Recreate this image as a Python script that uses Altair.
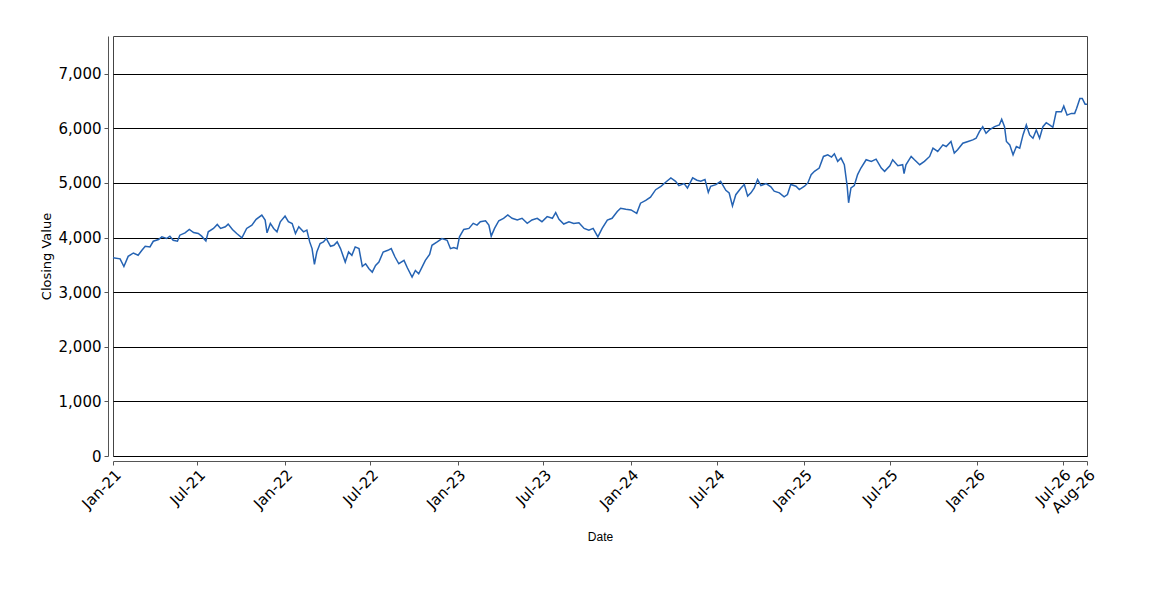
import altair as alt
import pandas as pd

dates = [
    "2021-01-04","2021-01-19","2021-01-27","2021-02-05","2021-02-16","2021-02-26","2021-03-06","2021-03-13",
    "2021-03-23","2021-03-30","2021-04-10","2021-04-17","2021-04-27","2021-05-04","2021-05-11","2021-05-20",
    "2021-05-25","2021-06-05","2021-06-14","2021-06-23","2021-07-03","2021-07-10","2021-07-19","2021-07-24",
    "2021-08-04","2021-08-12","2021-08-19","2021-08-29","2021-09-04","2021-09-13","2021-09-22","2021-10-03",
    "2021-10-13","2021-10-24","2021-11-02","2021-11-14","2021-11-21","2021-11-25","2021-12-02","2021-12-09",
    "2021-12-16","2021-12-23","2022-01-02","2022-01-09","2022-01-17","2022-01-24","2022-01-31","2022-02-10",
    "2022-02-17","2022-02-23","2022-02-28","2022-03-05","2022-03-10","2022-03-17","2022-03-24","2022-03-30",
    "2022-04-08","2022-04-15","2022-04-22","2022-04-29","2022-05-09","2022-05-16","2022-05-23","2022-05-30",
    "2022-06-07","2022-06-14","2022-06-21","2022-06-28","2022-07-05","2022-07-12","2022-07-19","2022-07-28",
    "2022-08-07","2022-08-14","2022-08-22","2022-08-30","2022-09-10","2022-09-17","2022-09-27","2022-10-04",
    "2022-10-11","2022-10-18","2022-10-25","2022-11-03","2022-11-08","2022-11-19","2022-11-29","2022-12-10",
    "2022-12-17","2022-12-24","2022-12-31","2023-01-05","2023-01-14","2023-01-25","2023-02-03","2023-02-11",
    "2023-02-18","2023-03-01","2023-03-08","2023-03-13","2023-03-20","2023-03-29","2023-04-08","2023-04-17",
    "2023-04-26","2023-05-07","2023-05-17","2023-05-28","2023-06-07","2023-06-18","2023-06-28","2023-07-09",
    "2023-07-20","2023-07-27","2023-08-03","2023-08-13","2023-08-24","2023-09-03","2023-09-14","2023-09-25",
    "2023-10-05","2023-10-14","2023-10-24","2023-11-02","2023-11-13","2023-11-23","2023-12-04","2023-12-11",
    "2023-12-22","2024-01-02","2024-01-14","2024-01-22","2024-02-02","2024-02-12","2024-02-23","2024-03-05",
    "2024-03-15","2024-03-26","2024-04-05","2024-04-12","2024-04-23","2024-04-30","2024-05-11","2024-05-20",
    "2024-05-28","2024-06-06","2024-06-13","2024-06-18","2024-06-29","2024-07-09","2024-07-20","2024-07-27",
    "2024-08-03","2024-08-10","2024-08-21","2024-08-28","2024-09-04","2024-09-11","2024-09-18","2024-09-25",
    "2024-10-02","2024-10-13","2024-10-23","2024-10-30","2024-11-10","2024-11-20","2024-11-27","2024-12-04",
    "2024-12-15","2024-12-22","2025-01-02","2025-01-09","2025-01-16","2025-01-23","2025-02-02","2025-02-11",
    "2025-02-20","2025-02-28","2025-03-06","2025-03-13","2025-03-20","2025-03-27","2025-04-02","2025-04-05",
    "2025-04-10","2025-04-17","2025-04-24","2025-05-01","2025-05-12","2025-05-23","2025-06-02","2025-06-13",
    "2025-06-20","2025-07-01","2025-07-07","2025-07-18","2025-07-28","2025-07-31","2025-08-04","2025-08-15",
    "2025-08-22","2025-09-02","2025-09-12","2025-09-23","2025-09-30","2025-10-10","2025-10-21","2025-10-28",
    "2025-11-07","2025-11-14","2025-11-21","2025-12-02","2025-12-13","2025-12-23","2025-12-30","2026-01-06",
    "2026-01-13","2026-01-20","2026-01-27","2026-02-07","2026-02-17","2026-02-22","2026-02-28","2026-03-04",
    "2026-03-11","2026-03-18","2026-03-25","2026-04-01","2026-04-08","2026-04-15","2026-04-22","2026-04-29",
    "2026-05-06","2026-05-13","2026-05-20","2026-05-27","2026-06-03","2026-06-10","2026-06-17","2026-06-28",
    "2026-07-03","2026-07-10","2026-07-19","2026-07-26","2026-07-30","2026-08-06","2026-08-11","2026-08-17",
    "2026-08-21",
]

closing = [
    3630,3610,3470,3655,3717,3675,3766,3840,
    3828,3932,3963,4012,3982,4025,3950,3932,
    4043,4086,4148,4092,4074,4025,3938,4105,
    4166,4240,4166,4197,4246,4148,4074,3994,
    4166,4228,4332,4412,4320,4086,4258,4166,
    4105,4289,4394,4289,4258,4074,4197,4105,
    4135,3920,3797,3508,3735,3889,3920,3982,
    3840,3858,3920,3797,3551,3735,3674,3828,
    3797,3471,3520,3428,3367,3490,3551,3735,
    3766,3797,3643,3520,3582,3446,3274,3397,
    3336,3459,3582,3692,3858,3920,3981,3950,
    3796,3815,3796,4012,4148,4167,4259,4228,
    4290,4308,4228,4025,4167,4308,4352,4413,
    4352,4321,4352,4259,4321,4352,4290,4383,
    4352,4457,4333,4247,4290,4259,4271,4167,
    4136,4167,4012,4167,4321,4352,4475,4537,
    4518,4506,4444,4629,4679,4740,4876,4938,
    5012,5092,5030,4950,4987,4907,5092,5049,
    5030,5061,4827,4938,4969,5030,4864,4815,
    4580,4784,4907,4970,4758,4818,4909,5061,
    4952,4988,4927,4848,4818,4745,4788,4970,
    4940,4879,4940,5000,5152,5212,5273,5485,
    5515,5473,5533,5394,5455,5333,4940,4636,
    4909,4952,5152,5273,5424,5394,5436,5273,
    5212,5315,5424,5315,5333,5170,5333,5485,
    5424,5333,5394,5485,5636,5576,5697,5667,
    5758,5545,5606,5727,5758,5788,5818,5939,
    6030,5909,5970,6030,6061,6164,6030,5758,
    5697,5515,5667,5636,5879,6061,5879,5818,
    5970,5818,6030,6103,6061,6018,6303,6303,
    6406,6242,6273,6273,6364,6545,6545,6442,
    6442,
]

tick_dates = [
    "2021-01-04","2021-07-01","2022-01-01","2022-07-01","2023-01-01","2023-07-01",
    "2024-01-01","2024-07-01","2025-01-01","2025-07-01","2026-01-01","2026-07-01","2026-08-21",
]
y_ticks = [0, 1000, 2000, 3000, 4000, 5000, 6000, 7000]

df = pd.DataFrame({"Date": pd.to_datetime(dates), "Closing Value": closing})

tick_vals = [alt.DateTime(year=int(d[:4]), month=int(d[5:7]), date=int(d[8:10])) for d in tick_dates]

chart = alt.Chart(df).mark_line(color="#2563b3", strokeWidth=1.5).encode(
    x=alt.X(
        "Date:T",
        title="Date",
        scale=alt.Scale(domain=[tick_vals[0], tick_vals[-1]], nice=False),
        axis=alt.Axis(
            values=tick_vals,
            format="%b-%y",
            labelAngle=-45,
            labelFont="DejaVu Sans",
            labelFontSize=15,
            labelColor="#000000",
            labelPadding=2,
            labelOverlap=False,
            labelFlush=False,
            grid=False,
            offset=5,
            tickSize=4,
            tickColor="#555555",
            domainColor="#555555",
            titleFont="Liberation Sans",
            titleFontSize=12,
            titleFontWeight="normal",
            titleColor="#000000",
            titleY=75,
            titleBaseline="middle",
        ),
    ),
    y=alt.Y(
        "Closing Value:Q",
        title="Closing Value",
        scale=alt.Scale(domain=[0, 7690], nice=False, zero=True),
        axis=alt.Axis(
            values=y_ticks,
            format=",d",
            labelFont="DejaVu Sans",
            labelFontSize=15,
            labelColor="#000000",
            labelPadding=3,
            grid=True,
            gridColor="#000000",
            gridWidth=1,
            gridOpacity=1,
            offset=5,
            tickSize=4,
            tickColor="#555555",
            domainColor="#555555",
            titleFont="DejaVu Sans",
            titleFontSize=13,
            titleFontWeight="normal",
            titleColor="#000000",
            titleX=-62,
            titleY=220,
            titleBaseline="middle",
        ),
    ),
).properties(
    width=974,
    height=420,
    autosize=alt.AutoSizeParams(type="none"),
    padding={"left": 105, "top": 28, "right": 40, "bottom": 100},
).configure(
    background="white",
).configure_view(
    stroke="#444444",
    strokeWidth=1,
)

chart.save("out.html", embed_options={"renderer": "svg", "actions": False})
